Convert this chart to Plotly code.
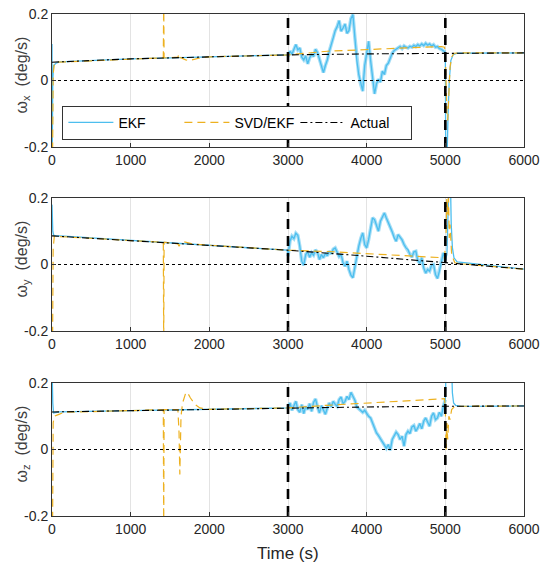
import plotly.graph_objects as go
from plotly.subplots import make_subplots

# ---------------- data ----------------
x_ticks = [0, 1000, 2000, 3000, 4000, 5000, 6000]
y_ticks = [-0.2, 0, 0.2]
y_tick_text = ["-0.2", "0", "0.2"]
event_times = [3000, 5000]
axis_titles = ["ω<sub>x</sub>&nbsp;&nbsp;(deg/s)", "ω<sub>y</sub>&nbsp;&nbsp;(deg/s)", "ω<sub>z</sub>&nbsp;&nbsp;(deg/s)"]
x_title = "Time (s)"

# Actual rates
t_act = [0, 1000, 2000, 3000, 4000, 5000, 6000]
act_x = [0.055, 0.065, 0.071, 0.077, 0.080, 0.082, 0.083]
act_y = [0.086, 0.072, 0.058, 0.043, 0.025, 0.006, -0.014]
act_z = [0.113, 0.117, 0.121, 0.125, 0.128, 0.130, 0.131]

# EKF noisy segment 3000..5000 every 25 s
t_noise = [3000 + 25 * i for i in range(81)]
ekf_x_noise = [0.072, 0.088, 0.079, 0.096, 0.108, 0.092, 0.098, 0.070, 0.062, 0.074,
               0.050, 0.068, 0.078, 0.072, 0.094, 0.084, 0.066, 0.048, 0.024, 0.045,
               0.062, 0.088, 0.112, 0.128, 0.150, 0.162, 0.180, 0.148, 0.158, 0.170,
               0.142, 0.150, 0.186, 0.198, 0.130, 0.060, 0.018, -0.012, -0.032, 0.045,
               0.085, 0.118, 0.060, 0.008, -0.040, -0.010, 0.004, -0.005, 0.028, 0.018,
               0.045, 0.052, 0.070, 0.082, 0.090, 0.094, 0.098, 0.102, 0.096, 0.104,
               0.100, 0.098, 0.103, 0.100, 0.106, 0.102, 0.108, 0.104, 0.110, 0.105,
               0.112, 0.106, 0.110, 0.104, 0.108, 0.100, 0.102, 0.096, 0.094, 0.088,
               0.085]
ekf_y_noise = [0.025, 0.070, 0.085, 0.078, 0.094, 0.088, 0.055, 0.010, -0.002, 0.030,
               0.038, 0.022, 0.035, 0.028, 0.044, 0.036, 0.015, 0.030, 0.020, 0.034,
               0.026, 0.040, 0.032, 0.046, 0.050, 0.036, 0.024, 0.030, 0.005, -0.005,
               0.010, -0.015, -0.032, -0.040, -0.005, 0.030, 0.055, 0.078, 0.095, 0.060,
               0.050, 0.075, 0.110, 0.140, 0.135, 0.118, 0.100, 0.130, 0.145, 0.155,
               0.140, 0.128, 0.112, 0.098, 0.080, 0.070, 0.090, 0.082, 0.074, 0.060,
               0.050, 0.045, 0.030, 0.022, 0.038, 0.040, 0.012, 0.004, 0.020, -0.010,
               -0.026, -0.015, -0.020, -0.002, 0.000, -0.030, -0.042, -0.020, 0.010, 0.035,
               0.012]
ekf_z_noise = [0.128, 0.140, 0.118, 0.132, 0.145, 0.120, 0.112, 0.135, 0.108, 0.130,
               0.120, 0.138, 0.115, 0.142, 0.152, 0.128, 0.110, 0.132, 0.118, 0.106,
               0.125, 0.140, 0.128, 0.145, 0.136, 0.130, 0.150, 0.158, 0.138, 0.145,
               0.160, 0.150, 0.172, 0.160, 0.148, 0.128, 0.122, 0.115, 0.112, 0.118,
               0.108, 0.100, 0.095, 0.080, 0.062, 0.050, 0.042, 0.032, 0.022, 0.010,
               0.004, 0.015, -0.002, 0.030, 0.040, 0.052, 0.045, 0.030, 0.040, 0.010,
               0.045, 0.055, 0.048, 0.068, 0.072, 0.055, 0.065, 0.078, 0.062, 0.085,
               0.095, 0.080, 0.070, 0.100, 0.110, 0.090, 0.095, 0.112, 0.100, 0.130,
               0.150]

# EKF before 3000 (start transient then tracks actual)
t_ekf_pre = [0, 2, 10, 20, 50, 100, 1000, 2000, 2990]
ekf_x_pre = [0.11, -0.25, 0.0, 0.045, 0.052, 0.056, 0.065, 0.071, 0.077]
ekf_y_pre = [0.18, 0.15, 0.10, 0.088, 0.086, 0.086, 0.072, 0.058, 0.043]
ekf_z_pre = [0.25, 0.20, 0.14, 0.11, 0.112, 0.113, 0.117, 0.121, 0.125]

# EKF after 5000
t_ekf_x_post = [5005, 5020, 5035, 5050, 5070, 5100, 5150, 6000]
ekf_x_post = [-0.25, -0.25, -0.10, 0.0, 0.060, 0.078, 0.082, 0.083]
t_ekf_y_post = [5020, 5040, 5050, 5065, 5075, 5090, 5110, 5150, 6000]
ekf_y_post = [0.030, 0.20, 0.30, 0.25, 0.12, 0.05, 0.02, 0.008, -0.014]
t_ekf_z_post = [5010, 5080, 5090, 5105, 5130, 5200, 6000]
ekf_z_post = [0.25, 0.25, 0.17, 0.14, 0.133, 0.130, 0.131]

# SVD/EKF
t_svd_x = [0, 8, 15, 30, 60, 1000, 1415, 1420, 1425, 1600, 1615, 1625, 1700, 1750,
           1800, 1900, 2000, 3000, 3500, 4000, 4500, 4950, 4990, 5000, 5010, 5020,
           5030, 5045, 5060, 5080, 5110, 5200, 6000]
svd_x = [-0.25, -0.20, 0.02, 0.050, 0.055, 0.065, 0.068, 0.25, 0.068, 0.070, 0.080,
         0.070, 0.062, 0.060, 0.063, 0.069, 0.071, 0.077, 0.088, 0.094, 0.098, 0.102,
         0.100, 0.080, -0.02, -0.10, -0.12, -0.03, 0.04, 0.070, 0.082, 0.083, 0.083]
t_svd_y = [0, 8, 15, 30, 1000, 1415, 1420, 1425, 1600, 1615, 1630, 1680, 1720, 1800,
           2000, 3000, 3500, 4000, 4500, 4950, 4990, 5010, 5020, 5030, 5040, 5050,
           5060, 5080, 5120, 5200, 6000]
svd_y = [-0.25, -0.20, 0.05, 0.085, 0.072, 0.067, -0.25, 0.067, 0.062, 0.055, 0.062,
         0.068, 0.066, 0.061, 0.058, 0.043, 0.039, 0.033, 0.028, 0.022, 0.020, 0.10,
         0.22, 0.15, 0.20, 0.08, 0.12, 0.03, 0.005, 0.002, -0.014]
t_svd_z = [0, 8, 15, 30, 80, 150, 1000, 1415, 1420, 1425, 1600, 1615, 1625, 1640,
           1660, 1700, 1720, 1760, 1820, 1880, 2000, 3000, 3500, 4000, 4500, 4950,
           4990, 5000, 5010, 5020, 5030, 5045, 5060, 5080, 5120, 6000]
svd_z = [-0.25, -0.20, 0.08, 0.100, 0.105, 0.112, 0.117, 0.120, -0.25, 0.120, 0.120,
         0.050, -0.075, 0.100, 0.140, 0.170, 0.172, 0.155, 0.135, 0.125, 0.121, 0.125,
         0.133, 0.140, 0.148, 0.153, 0.153, 0.120, 0.0, 0.080, 0.030, 0.100, 0.090,
         0.120, 0.130, 0.131]

# ---------------- styles ----------------
C_EKF = "#4DBEEE"
C_SVD = "#EDB120"
FONT = "Liberation Sans, Arial, sans-serif"
TXT = "#262626"

panels = [
    (t_ekf_pre + t_noise + t_ekf_x_post, ekf_x_pre + ekf_x_noise + ekf_x_post, ekf_x_noise, t_svd_x, svd_x, act_x),
    (t_ekf_pre + t_noise + t_ekf_y_post, ekf_y_pre + ekf_y_noise + ekf_y_post, ekf_y_noise, t_svd_y, svd_y, act_y),
    (t_ekf_pre + t_noise + t_ekf_z_post, ekf_z_pre + ekf_z_noise + ekf_z_post, ekf_z_noise, t_svd_z, svd_z, act_z),
]

fig = make_subplots(rows=3, cols=1)

for i, (te, ye, yn, ts, ys, ya) in enumerate(panels):
    r = i + 1
    first = i == 0
    # soft band under the noisy EKF section (visual thickness of the dense noise)
    fig.add_trace(go.Scatter(x=t_noise, y=yn, mode="lines", showlegend=False, hoverinfo="skip",
                             line=dict(color=C_EKF, width=3.5), opacity=0.5), row=r, col=1)
    fig.add_trace(go.Scatter(x=te, y=ye, mode="lines", name="EKF",
                             line=dict(color=C_EKF, width=1.3), showlegend=first,
                             legendrank=1), row=r, col=1)
    fig.add_trace(go.Scatter(x=ts, y=ys, mode="lines", name="SVD/EKF",
                             line=dict(color=C_SVD, width=1.2, dash="8px,5px"),
                             showlegend=first, legendrank=2), row=r, col=1)
    fig.add_trace(go.Scatter(x=t_act, y=ya, mode="lines", name="Actual",
                             line=dict(color="black", width=1.1, dash="7px,3px,2px,3px"),
                             showlegend=first, legendrank=3), row=r, col=1)
    for et in event_times:
        fig.add_trace(go.Scatter(x=[et, et], y=[y_ticks[0], y_ticks[-1]], mode="lines",
                                 line=dict(color="black", width=2.6, dash="10px,7px"),
                                 showlegend=False, hoverinfo="skip"), row=r, col=1)
    fig.add_trace(go.Scatter(x=[x_ticks[0], x_ticks[-1]], y=[0, 0], mode="lines",
                             line=dict(color="black", width=1.1, dash="dot"),
                             showlegend=False, hoverinfo="skip"), row=r, col=1)

L, R, T, B = 52, 18, 14, 53
W, H = 542, 569
plot_w = W - L - R
plot_h = H - T - B
domains = [[0.7351, 1.0], [0.3685, 0.6335], [0.0, 0.2649]]
for i in range(3):
    r = i + 1
    fig.update_xaxes(range=[0, 6000], tickvals=x_ticks, showgrid=True,
                     gridcolor="#e3e3e3", gridwidth=1.3, zeroline=False,
                     showline=True, mirror=True, linecolor="#333333", linewidth=1,
                     ticks="inside", ticklen=4, tickcolor="#333333", automargin=False,
                     tickfont=dict(family=FONT, size=14, color=TXT),
                     row=r, col=1)
    fig.update_yaxes(range=[-0.2, 0.2], tickvals=y_ticks, ticktext=y_tick_text,
                     domain=domains[i], showgrid=False, zeroline=False,
                     showline=True, mirror=True, linecolor="#333333", linewidth=1,
                     ticks="inside", ticklen=4, tickcolor="#333333", automargin=False,
                     tickfont=dict(family=FONT, size=14, color=TXT),
                     row=r, col=1)
    # rotated y-axis titles placed as annotations
    fig.add_annotation(text=axis_titles[i], xref="paper", yref="paper",
                       x=(22 - L) / plot_w, y=(domains[i][0] + domains[i][1]) / 2 + 0.01,
                       xanchor="center", yanchor="middle", textangle=-90, showarrow=False,
                       font=dict(family=FONT, size=16, color="#404040"))

fig.add_annotation(text=x_title, xref="paper", yref="paper",
                   x=0.5, y=-(553 - (H - B)) / plot_h, xanchor="center", yanchor="middle",
                   showarrow=False, font=dict(family=FONT, size=17, color=TXT))

fig.update_layout(
    width=W, height=H,
    margin=dict(l=L, r=R, t=T, b=B, autoexpand=False),
    paper_bgcolor="white", plot_bgcolor="white",
    legend=dict(orientation="h", x=0.022, y=0.817, xanchor="left", yanchor="top",
                bgcolor="white", bordercolor="#333333", borderwidth=1,
                font=dict(family=FONT, size=14, color="black"),
                itemwidth=45, entrywidth=56, tracegroupgap=0),
    showlegend=True,
)

fig.write_html("out.html")
